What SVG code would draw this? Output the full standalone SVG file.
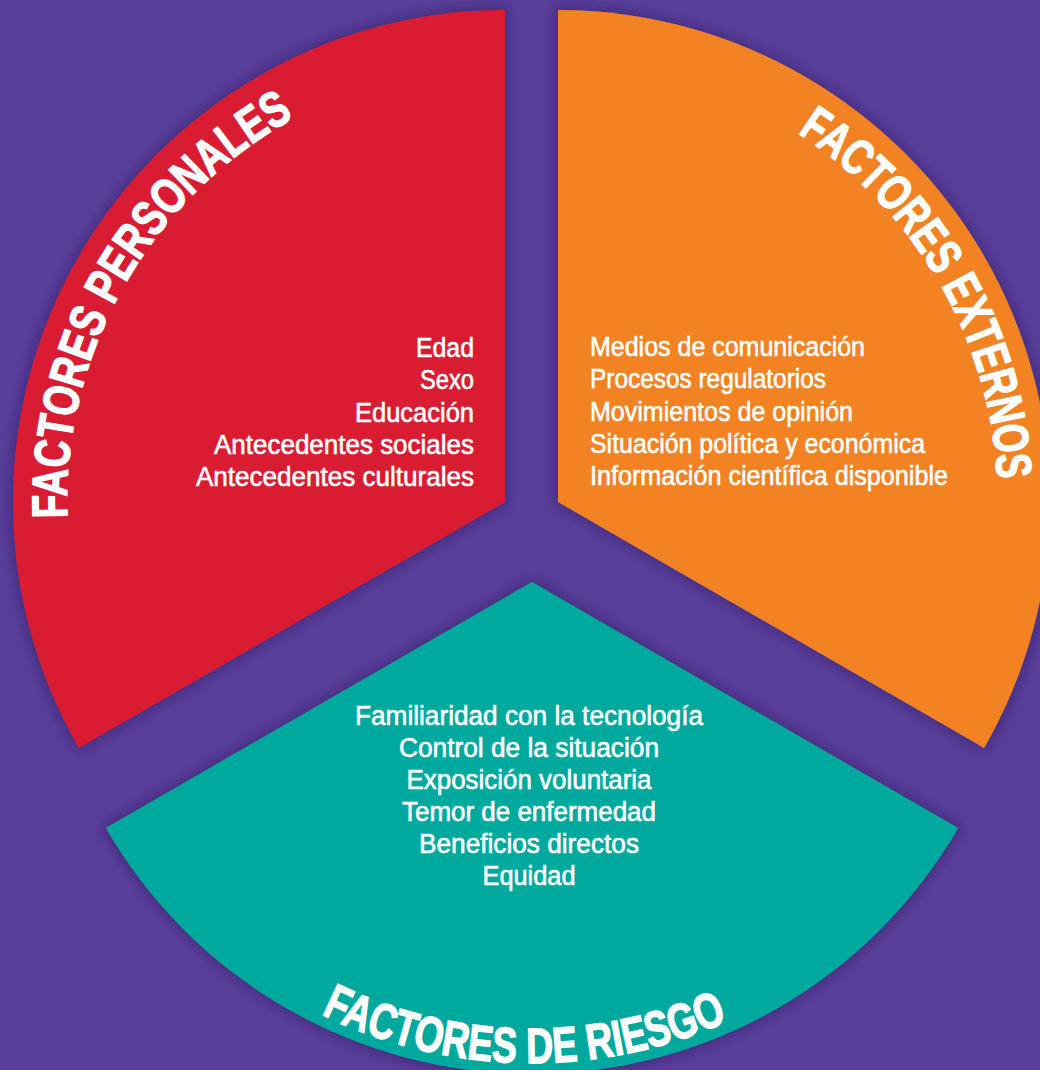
<svg xmlns="http://www.w3.org/2000/svg" width="1040" height="1070" viewBox="0 0 1040 1070">
<style>
.item{font-family:"Liberation Sans",Arial,sans-serif;font-size:27px;fill:#fff;stroke:#fff;stroke-width:0.6px;}
.title{font-family:"Liberation Sans",Arial,sans-serif;font-size:50px;font-weight:bold;fill:#fff;stroke:#fff;stroke-width:1.4px;}
</style>
<defs>
<filter id="glow" x="-10%" y="-10%" width="120%" height="120%">
<feDropShadow dx="0" dy="0" stdDeviation="6" flood-color="#2b1a63" flood-opacity="0.8"/>
</filter>
<path id="arcRed" d="M67.3 518 A438 438 0 0 1 355.2 90.4"/>
<path id="arcOrange" d="M797.6 133 A440 440 0 0 1 991.3 578.4"/>
<path id="arcTeal" d="M321.1 1014.3 A481 481 0 0 0 807.9 976"/>
</defs>
<rect width="1040" height="1070" fill="#573E97"/>
<g id="connectors"/>
<g id="personales">
<path d="M505 502 L505 10 A492 492 0 0 0 78.9 748 Z" fill="#DA1F33" filter="url(#glow)"/>
<text class="title"><textPath href="#arcRed" textLength="484" lengthAdjust="spacingAndGlyphs">FACTORES PERSONALES</textPath></text>
<text class="item">
<tspan x="416" y="357" textLength="58" lengthAdjust="spacingAndGlyphs">Edad</tspan>
<tspan x="420" y="389" textLength="54" lengthAdjust="spacingAndGlyphs">Sexo</tspan>
<tspan x="355" y="421.5" textLength="119" lengthAdjust="spacingAndGlyphs">Educación</tspan>
<tspan x="214" y="453.5" textLength="260" lengthAdjust="spacingAndGlyphs">Antecedentes sociales</tspan>
<tspan x="196" y="486" textLength="278" lengthAdjust="spacingAndGlyphs">Antecedentes culturales</tspan>
</text>
</g>
<g id="externos">
<path d="M558 502 L558 10 A492 492 0 0 1 984.1 748 Z" fill="#F28222" filter="url(#glow)"/>
<text class="title"><textPath href="#arcOrange" textLength="415" lengthAdjust="spacingAndGlyphs">FACTORES EXTERNOS</textPath></text>
<text class="item">
<tspan x="590" y="356" textLength="275" lengthAdjust="spacingAndGlyphs">Medios de comunicación</tspan>
<tspan x="590" y="388" textLength="236" lengthAdjust="spacingAndGlyphs">Procesos regulatorios</tspan>
<tspan x="590" y="421" textLength="263" lengthAdjust="spacingAndGlyphs">Movimientos de opinión</tspan>
<tspan x="590" y="453" textLength="335" lengthAdjust="spacingAndGlyphs">Situación política y económica</tspan>
<tspan x="590" y="485" textLength="358" lengthAdjust="spacingAndGlyphs">Información científica disponible</tspan>
</text>
</g>
<g id="riesgo">
<path d="M532 582 L958.1 828 A492 492 0 0 1 105.9 828 Z" fill="#00A99D" filter="url(#glow)"/>
<text class="title"><textPath href="#arcTeal" textLength="420" lengthAdjust="spacingAndGlyphs">FACTORES DE RIESGO</textPath></text>
<text class="item">
<tspan x="355" y="725" textLength="348" lengthAdjust="spacingAndGlyphs">Familiaridad con la tecnología</tspan>
<tspan x="399" y="757" textLength="260" lengthAdjust="spacingAndGlyphs">Control de la situación</tspan>
<tspan x="406.5" y="789" textLength="245" lengthAdjust="spacingAndGlyphs">Exposición voluntaria</tspan>
<tspan x="402" y="821" textLength="254" lengthAdjust="spacingAndGlyphs">Temor de enfermedad</tspan>
<tspan x="419" y="853" textLength="220" lengthAdjust="spacingAndGlyphs">Beneficios directos</tspan>
<tspan x="482.5" y="885" textLength="93" lengthAdjust="spacingAndGlyphs">Equidad</tspan>
</text>
</g>
</svg>
